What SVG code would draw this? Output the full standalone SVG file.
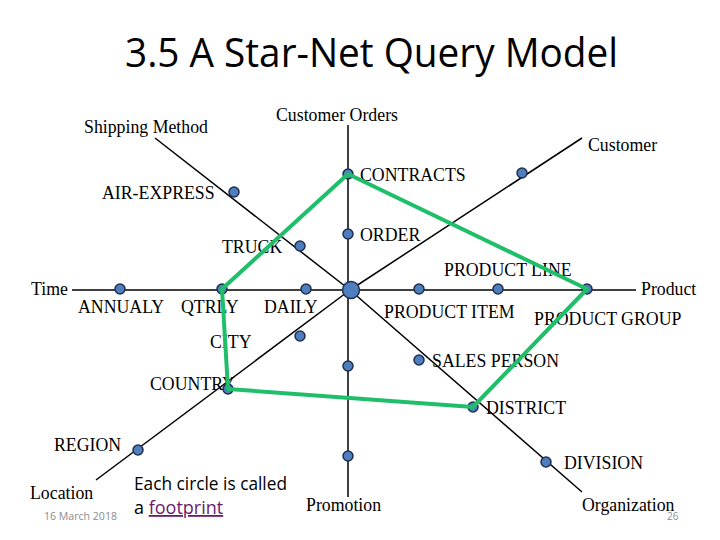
<svg xmlns="http://www.w3.org/2000/svg" width="720" height="540" viewBox="0 0 720 540">
<style>
.ax{stroke:#000;stroke-width:1.5;fill:none}
.fp{fill:#4f7ebf;stroke:#1f2f4f;stroke-width:1.5}
.lb{font-family:"Liberation Serif","Times New Roman",serif;font-size:17.8px;fill:#000}
.gr{fill:none;stroke:#1fbf6a;stroke-width:4;stroke-linejoin:round}
.sm{font-family:"Open Sans","Liberation Sans",sans-serif;fill:#8c8c8c}
</style>
<rect width="720" height="540" fill="#fff"/>
<text x="125" y="67" font-family="'Open Sans','Liberation Sans',sans-serif" font-size="40" textLength="493" lengthAdjust="spacingAndGlyphs" fill="#000">3.5 A Star-Net Query Model</text>
<g id="connectors">
<line class="ax" x1="72" y1="290" x2="636" y2="290"/>
<line class="ax" x1="348" y1="125" x2="348" y2="497"/>
<line class="ax" x1="155" y1="138" x2="350" y2="290"/>
<line class="ax" x1="350" y1="290" x2="582" y2="138"/>
<line class="ax" x1="350" y1="290" x2="96" y2="480"/>
<line class="ax" x1="350" y1="290" x2="582" y2="492"/>
</g>
<g id="center"><circle class="fp" cx="351" cy="290" r="8.5"/></g>
<g id="shipping">
<text class="lb" x="84" y="133">Shipping Method</text>
<circle id="air-express" class="fp" cx="234" cy="192" r="5"/><text class="lb" x="102" y="199">AIR-EXPRESS</text>
<circle id="truck" class="fp" cx="300" cy="246" r="5"/><text class="lb" x="222" y="253">TRUCK</text>
</g>
<g id="customer-orders">
<text class="lb" x="276" y="121">Customer Orders</text>
<circle id="contracts" class="fp" cx="348" cy="174" r="5"/><text class="lb" x="360" y="181">CONTRACTS</text>
<circle id="order" class="fp" cx="348" cy="234" r="5"/><text class="lb" x="360" y="241">ORDER</text>
</g>
<g id="customer">
<text class="lb" x="588" y="151">Customer</text>
<circle class="fp" cx="522" cy="173" r="5"/>
</g>
<g id="time">
<text class="lb" x="31" y="295">Time</text>
<circle id="annualy" class="fp" cx="120" cy="289" r="5"/><text class="lb" x="78" y="313">ANNUALY</text>
<circle id="qtrly" class="fp" cx="222" cy="289" r="5"/><text class="lb" x="181" y="313">QTRLY</text>
<circle id="daily" class="fp" cx="306" cy="289" r="5"/><text class="lb" x="264" y="313">DAILY</text>
</g>
<g id="product">
<text class="lb" x="641" y="295">Product</text>
<circle id="product-item" class="fp" cx="419" cy="289" r="5"/><text class="lb" x="384" y="318">PRODUCT ITEM</text>
<circle id="product-line" class="fp" cx="498" cy="289" r="5"/><text class="lb" x="444" y="276">PRODUCT LINE</text>
<circle id="product-group" class="fp" cx="587" cy="289" r="5"/><text class="lb" x="534" y="325">PRODUCT GROUP</text>
</g>
<g id="location">
<text class="lb" x="30" y="499">Location</text>
<circle id="city" class="fp" cx="300" cy="336" r="5"/><text class="lb" x="210" y="348">CITY</text>
<circle id="country" class="fp" cx="228" cy="389" r="5"/><text class="lb" x="150" y="390">COUNTRY</text>
<circle id="region" class="fp" cx="138" cy="450" r="5"/><text class="lb" x="54" y="451">REGION</text>
</g>
<g id="promotion">
<text class="lb" x="306" y="511">Promotion</text>
<circle class="fp" cx="348" cy="366" r="5"/>
<circle class="fp" cx="348" cy="456" r="5"/>
</g>
<g id="organization">
<text class="lb" x="582" y="511">Organization</text>
<circle id="sales-person" class="fp" cx="419" cy="360" r="5"/><text class="lb" x="432" y="367">SALES PERSON</text>
<circle id="district" class="fp" cx="473" cy="407" r="5"/><text class="lb" x="486" y="414">DISTRICT</text>
<circle id="division" class="fp" cx="546" cy="462" r="5"/><text class="lb" x="564" y="469">DIVISION</text>
</g>
<g id="footprint">
<polygon class="gr" points="348,174 587,289 473,407 228,389 222,289"/>
</g>
<g id="notes">
<text x="134" y="490" font-family="'Open Sans','Liberation Sans',sans-serif" font-size="18" textLength="153" lengthAdjust="spacingAndGlyphs" fill="#000">Each circle is called</text>
<text x="134" y="514" font-family="'Open Sans','Liberation Sans',sans-serif" font-size="18" fill="#000">a <tspan fill="#6b1a6b" text-decoration="underline">footprint</tspan></text>
<text class="sm" x="44" y="520" font-size="10.5" textLength="73" lengthAdjust="spacingAndGlyphs">16 March 2018</text>
<text class="sm" x="667" y="520" font-size="10">26</text>
</g>
</svg>
